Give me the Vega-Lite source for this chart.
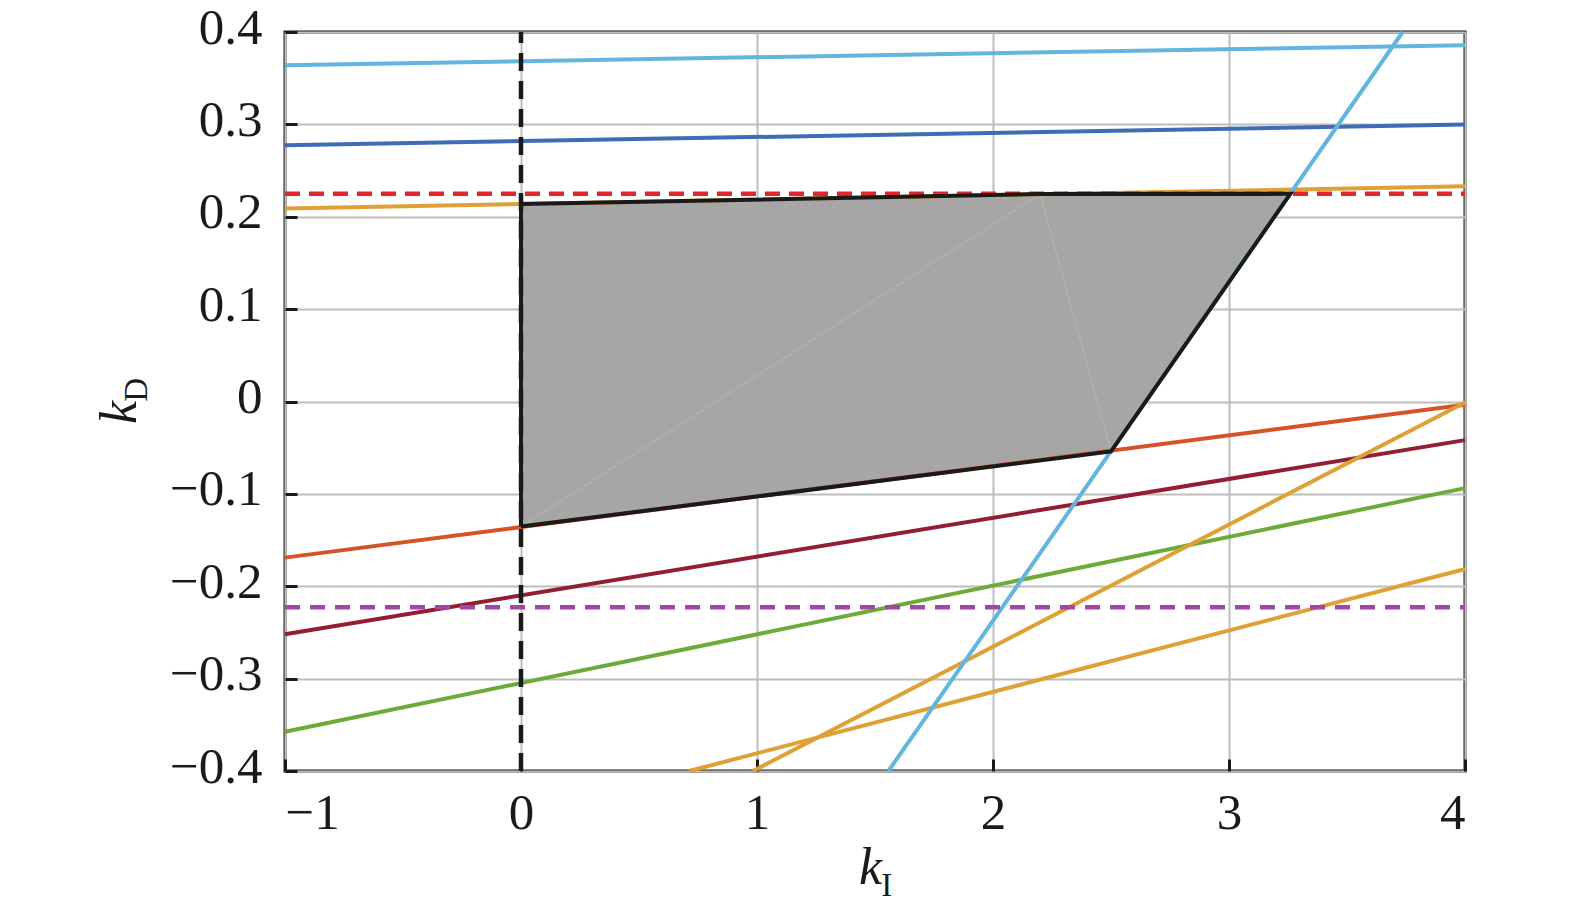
{
  "$schema": "https://vega.github.io/schema/vega-lite/v6.json",
  "width": 1180,
  "height": 739,
  "autosize": "none",
  "padding": {"left": 285, "top": 32, "right": 110, "bottom": 144},
  "background": "white",
  "config": {
    "view": {"stroke": "#1a1a1a", "strokeWidth": 3},
    "font": "Liberation Serif",
    "axis": {
      "domain": false,
      "grid": true,
      "gridColor": "#bdbdbd",
      "gridWidth": 2,
      "ticks": true,
      "tickColor": "#1a1a1a",
      "tickWidth": 3,
      "tickSize": -12,
      "labelFont": "Liberation Serif",
      "labelFontSize": 51,
      "labelColor": "#1a1a1a",
      "titleFont": "Liberation Serif",
      "titleFontSize": 52,
      "titleFontStyle": "italic",
      "titleFontWeight": "normal",
      "titleColor": "#1a1a1a"
    }
  },
  "datasets": {
    "lines": [
      {"s": "lb1", "k_I": -1, "k_D": 0.364},
      {"s": "lb1", "k_I": 4, "k_D": 0.3857},
      {"s": "db", "k_I": -1, "k_D": 0.2774},
      {"s": "db", "k_I": 4, "k_D": 0.2998},
      {"s": "o1", "k_I": -1, "k_D": 0.209},
      {"s": "o1", "k_I": 4, "k_D": 0.233},
      {"s": "orr", "k_I": -1, "k_D": -0.169},
      {"s": "orr", "k_I": 4, "k_D": -0.0036},
      {"s": "dr", "k_I": -1, "k_D": -0.252},
      {"s": "dr", "k_I": 4, "k_D": -0.0418},
      {"s": "gr", "k_I": -1, "k_D": -0.3575},
      {"s": "gr", "k_I": 4, "k_D": -0.0938},
      {"s": "o2", "k_I": 0.983, "k_D": -0.4},
      {"s": "o2", "k_I": 4, "k_D": -0.001},
      {"s": "o3", "k_I": 0.712, "k_D": -0.4},
      {"s": "o3", "k_I": 4, "k_D": -0.1813},
      {"s": "lb2", "k_I": 1.557, "k_D": -0.4},
      {"s": "lb2", "k_I": 3.736, "k_D": 0.4},
      {"s": "rd", "k_I": -1, "k_D": 0.2248},
      {"s": "rd", "k_I": 4, "k_D": 0.2248},
      {"s": "pu", "k_I": -1, "k_D": -0.2228},
      {"s": "pu", "k_I": 4, "k_D": -0.2228},
      {"s": "bk", "k_I": 0, "k_D": -0.4},
      {"s": "bk", "k_I": 0, "k_D": 0.4}
    ],
    "poly": [
      {"i": 0, "k_I": 0, "k_D": -0.1354},
      {"i": 1, "k_I": 0, "k_D": 0.2138},
      {"i": 2, "k_I": 2.2, "k_D": 0.2245},
      {"i": 3, "k_I": 3.26, "k_D": 0.2248},
      {"i": 4, "k_I": 2.5, "k_D": -0.054},
      {"i": 5, "k_I": 0, "k_D": -0.1354}
    ],
    "seams": [
      {"e": "a", "k_I": 0, "k_D": -0.1354},
      {"e": "a", "k_I": 2.2, "k_D": 0.2245},
      {"e": "b", "k_I": 2.2, "k_D": 0.2245},
      {"e": "b", "k_I": 2.5, "k_D": -0.054}
    ],
    "subs": [
      {"t": "I", "axis": "x"},
      {"t": "D", "axis": "y"}
    ]
  },
  "layer": [
    {
      "data": {"name": "poly"},
      "mark": {"type": "line", "fill": "#a6a6a6", "strokeOpacity": 0, "interpolate": "linear"},
      "encoding": {
        "x": {
          "field": "k_I", "type": "quantitative",
          "scale": {"domain": [-1, 4], "nice": false, "zero": false},
          "axis": {"values": [-1, 0, 1, 2, 3, 4], "format": "d", "labelPadding": 29, "title": "k", "titleX": 585, "titleY": 112, "titleBaseline": "alphabetic"}
        },
        "y": {
          "field": "k_D", "type": "quantitative",
          "scale": {"domain": [-0.4, 0.4], "nice": false, "zero": false},
          "axis": {"values": [-0.4, -0.3, -0.2, -0.1, 0, 0.1, 0.2, 0.3, 0.4], "format": ".1~f", "labelPadding": 35, "labelOffset": -4, "title": "k", "titleX": -150, "titleY": 380, "titleAngle": 270, "titleBaseline": "alphabetic"}
        },
        "order": {"field": "i", "type": "quantitative"}
      }
    },
    {
      "data": {"name": "seams"},
      "mark": {"type": "line", "stroke": "#bcbcbc", "strokeWidth": 1, "opacity": 0.7},
      "encoding": {
        "x": {"field": "k_I", "type": "quantitative"},
        "y": {"field": "k_D", "type": "quantitative"},
        "detail": {"field": "e"}
      }
    },
    {
      "data": {"name": "lines"},
      "transform": [{"filter": {"field": "s", "oneOf": ["lb1", "db", "o1", "orr", "dr", "gr", "o2", "o3", "lb2"]}}],
      "mark": {"type": "line", "strokeWidth": 4},
      "encoding": {
        "x": {"field": "k_I", "type": "quantitative"},
        "y": {"field": "k_D", "type": "quantitative"},
        "color": {
          "field": "s", "type": "nominal", "legend": null,
          "scale": {
            "domain": ["lb1", "db", "o1", "orr", "dr", "gr", "o2", "o3", "lb2", "rd", "pu", "bk"],
            "range": ["#62b6dd", "#3e6db5", "#dfa035", "#d55327", "#931d35", "#6cab3a", "#dfa035", "#dfa035", "#62b6dd", "#e3262b", "#a047a8", "#1a1a1a"]
          }
        }
      }
    },
    {
      "data": {"name": "lines"},
      "transform": [{"filter": {"field": "s", "oneOf": ["rd", "pu", "bk"]}}],
      "mark": {"type": "line", "strokeWidth": 4.5},
      "encoding": {
        "x": {"field": "k_I", "type": "quantitative"},
        "y": {"field": "k_D", "type": "quantitative"},
        "color": {"field": "s", "type": "nominal", "legend": null},
        "strokeDash": {
          "field": "s", "type": "nominal", "legend": null,
          "scale": {"domain": ["rd", "pu", "bk"], "range": [[15, 9], [15, 10], [18, 10]]}
        }
      }
    },
    {
      "data": {"name": "poly"},
      "mark": {"type": "line", "stroke": "#1a1a1a", "strokeWidth": 4, "strokeJoin": "miter"},
      "encoding": {
        "x": {"field": "k_I", "type": "quantitative"},
        "y": {"field": "k_D", "type": "quantitative"},
        "order": {"field": "i", "type": "quantitative"}
      }
    },
    {
      "data": {"name": "subs"},
      "transform": [{"filter": "datum.axis == 'x'"}],
      "mark": {"type": "text", "font": "Liberation Serif", "fontSize": 33, "fill": "#1a1a1a", "align": "center", "baseline": "alphabetic", "clip": false},
      "encoding": {
        "text": {"field": "t", "type": "nominal"},
        "x": {"datum": 1.55, "type": "quantitative"},
        "y": {"datum": -0.5355, "type": "quantitative"}
      }
    },
    {
      "data": {"name": "subs"},
      "transform": [{"filter": "datum.axis == 'y'"}],
      "mark": {"type": "text", "font": "Liberation Serif", "fontSize": 33, "fill": "#1a1a1a", "align": "center", "baseline": "alphabetic", "angle": 270, "clip": false},
      "encoding": {
        "text": {"field": "t", "type": "nominal"},
        "x": {"datum": -1.586, "type": "quantitative"},
        "y": {"datum": 0.0127, "type": "quantitative"}
      }
    }
  ]
}
